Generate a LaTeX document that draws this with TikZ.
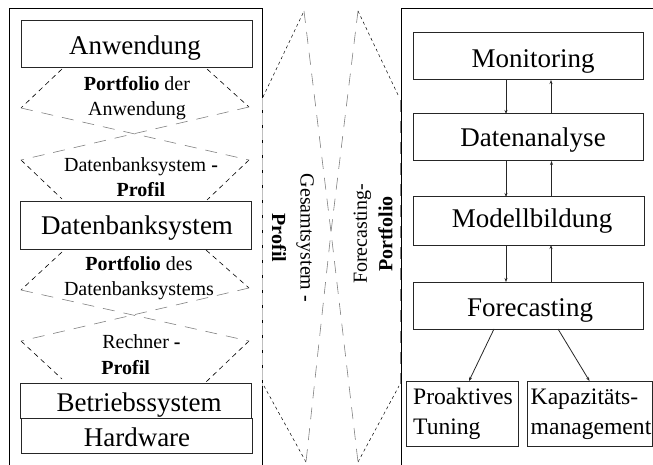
\documentclass[tikz,border=0pt]{standalone}
\usepackage{fontspec}
\setmainfont{Liberation Serif}
\usetikzlibrary{arrows.meta}
\newcommand{\fbig}{\fontsize{27}{30}\selectfont}
\newcommand{\fmid}{\fontsize{23.6}{30}\selectfont}
\newcommand{\fsml}{\fontsize{20}{25.5}\selectfont}
\tikzset{
  boxnode/.style={draw=black!85,line width=1pt,inner sep=0pt,outer sep=0pt,minimum width=230.5pt,minimum height=47pt,font=\fbig,text depth=0pt},
  bl/.style={text height=#1*2pt},
  tinybox/.style={draw=black!85,line width=1pt,inner sep=0pt,outer sep=0pt,minimum height=65pt,font=\fmid,align=left},
  lab/.style={inner sep=0pt,font=\fsml,align=center},
  frameline/.style={line width=1pt,black},
  blackdash/.style={line width=.6pt,black,dash pattern=on 5pt off 4pt},
  finedash/.style={line width=.5pt,black,dash pattern=on 3pt off 3pt},
  graydash/.style={line width=.6pt,black!50,dash pattern=on 12pt off 9pt},
  conn/.style={line width=.8pt,black!85,-{Stealth[length=4pt,width=3pt]}},
}
\begin{document}
\begin{tikzpicture}[x=1pt,y=-1pt]
\useasboundingbox (0,0) rectangle (653,465);
% frames
\coordinate (lf0) at (9.5,465); \coordinate (lf1) at (9.5,9); \coordinate (lf2) at (262,9); \coordinate (lf3) at (262,465);
\coordinate (rf0) at (401,465); \coordinate (rf1) at (401,9); \coordinate (rf2) at (653,9);
\draw[frameline] (lf0) -- (lf1) -- (lf2) -- (lf3);
\draw[frameline] (rf0) -- (rf1) -- (rf2);
% boxes left
\node[boxnode,bl=10] (anw) at (137,44.5) {\hspace*{-4pt}Anwendung};
\node[boxnode,bl=8.5] (dbs) at (136,225.5) {\hspace*{2pt}Datenbanksystem};
\node[boxnode,bl=10.5,minimum height=35pt] (bet) at (136,400.5) {\hspace*{6pt}Betriebssystem};
\node[boxnode,bl=11,minimum height=35pt] (hw) at (137,435.5) {Hardware};
% boxes right
\node[boxnode,bl=11.5] (mon) at (528.5,56.5) {\hspace*{9pt}Monitoring};
\node[boxnode,bl=9.5] (dat) at (528.5,137.5) {\hspace*{9pt}Datenanalyse};
\node[boxnode,bl=7,minimum height=48pt] (mod) at (529,221) {\hspace*{6pt}Modellbildung};
\node[boxnode,bl=10.5] (fc) at (528.5,305.5) {\hspace*{3pt}Forecasting};
\node[tinybox,minimum width=112pt] (pro) at (462,413.5) {\hspace*{7pt}\begin{tabular}{@{}l@{}}Proaktives\\Tuning\end{tabular}\hspace*{5pt}};
\node[tinybox,minimum width=125pt] (kap) at (589.5,413.5) {\hspace*{3pt}\begin{tabular}{@{}l@{}}Kapazitäts-\\management\end{tabular}};
% arrows
\draw[conn] ([xshift=-22.5pt]mon.south) -- ([xshift=-22.5pt]dat.north);
\draw[conn] ([xshift=22.5pt]dat.north) -- ([xshift=22.5pt]mon.south);
\draw[conn] ([xshift=-22.5pt]dat.south) -- ([xshift=-23pt]mod.north);
\draw[conn] ([xshift=22.5pt]mod.north) -- ([xshift=23pt]dat.south);
\draw[conn] ([xshift=-23pt]mod.south) -- ([xshift=-22.5pt]fc.north);
\draw[conn] ([xshift=22.5pt]fc.north) -- ([xshift=22pt]mod.south);
\draw[conn] ([xshift=-34.5pt]fc.south) -- ([xshift=7pt]pro.north);
\draw[conn] ([xshift=29.5pt]fc.south) -- (kap.north);
% left stack dashed
\coordinate (a1) at (62,69); \coordinate (a2) at (21,108); \coordinate (a3) at (249,160); \coordinate (a4) at (207,200);
\coordinate (b1) at (207,69); \coordinate (b2) at (249,107); \coordinate (b3) at (21,160); \coordinate (b4) at (62,199);
\coordinate (c1) at (62,252); \coordinate (c2) at (21,290); \coordinate (c3) at (249,341); \coordinate (c4) at (206,382);
\coordinate (d1) at (206,250); \coordinate (d2) at (249,288); \coordinate (d3) at (21,341); \coordinate (d4) at (62,379);
\foreach \p/\q in {a1/a2,b1/b2,a3/a4,b3/b4,c1/c2,d1/d2,c3/c4,d3/d4} \draw[blackdash] (\p) -- (\q);
\foreach \p/\q in {a2/a3,b2/b3,c2/c3,d2/d3} \draw[graydash] (\p) -- (\q);
% middle hourglass shapes
\coordinate (l1) at (263,97); \coordinate (l2) at (304,11); \coordinate (l3) at (331,232); \coordinate (l4) at (306,462); \coordinate (l5) at (264,386);
\coordinate (r1) at (399,97); \coordinate (r2) at (358,11); \coordinate (r3) at (331,232); \coordinate (r4) at (358,462); \coordinate (r5) at (399,386);
\draw[finedash] (l1) -- (l2);
\draw[finedash] (l4) -- (l5);
\draw[finedash] (r2) -- (r1);
\draw[finedash] (r4) -- (r5);
\draw[graydash] (l2) -- (l3) -- (l4);
\draw[graydash] (r2) -- (r3) -- (r4);
\draw[line width=1pt,white!75!black,dash pattern=on 12pt off 3pt] (262,98) -- (262,386);
\draw[graydash] (400,100) -- (400,384);
% labels
\node[lab] (l-a) at (137,98) {\textbf{Portfolio} der\\Anwendung};
\node[lab] (l-b) at (141,177) {Datenbanksystem \textbf{-}\\\textbf{Profil}};
\node[lab] (l-c) at (139,278) {\textbf{Portfolio} des\\Datenbanksystems};
\node[lab,align=left] (l-d) at (141,354.5) {\hspace*{1pt}Rechner \textbf{-}\\\textbf{Profil}};
\node[lab,rotate=-90] (l-e) at (293,238) {Gesamtsystem \textbf{-}\\[3pt]\textbf{Profil}};
\node[lab,rotate=90] (l-f) at (373,234) {Forecasting-\\\textbf{Portfolio}};
\end{tikzpicture}
\end{document}
